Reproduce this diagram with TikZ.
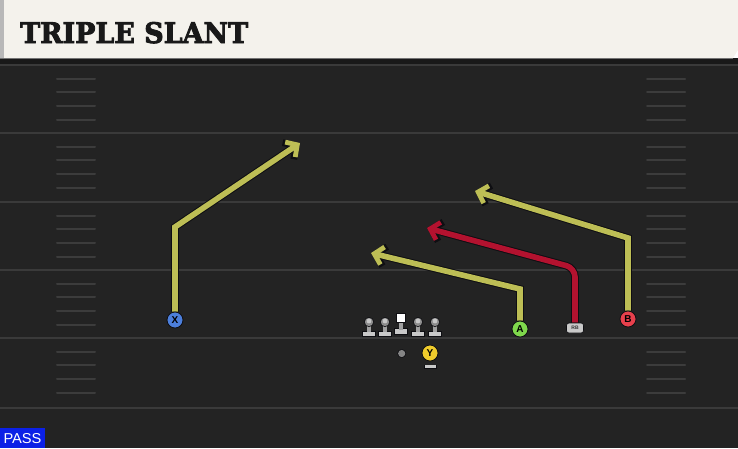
\documentclass[tikz,border=0pt]{standalone}
\usepackage{fontspec}
\usetikzlibrary{arrows.meta}
\newfontfamily\titlefont[BoldFont={DejaVu Serif Bold},BoldFeatures={FakeBold=3}]{DejaVu Serif}
\newfontfamily\labelfont{Liberation Sans}
\definecolor{cream}{HTML}{F4F2EC}
\definecolor{fieldbg}{HTML}{232323}
\definecolor{yardline}{HTML}{3A3A3A}
\definecolor{hashc}{HTML}{3C3C3C}
\definecolor{routey}{HTML}{BDBE55}
\definecolor{router}{HTML}{B3122F}
\definecolor{outl}{HTML}{0E0E12}
\definecolor{pblue}{HTML}{4C7FDC}
\definecolor{pgreen}{HTML}{7FD84C}
\definecolor{pred}{HTML}{E8404C}
\definecolor{pyellow}{HTML}{F0CC2C}
\definecolor{passblue}{HTML}{0B20E6}
\definecolor{olgray}{HTML}{C9C9C9}
\pgfdeclarelayer{back}
\pgfdeclarelayer{routes}
\pgfsetlayers{back,routes,main}
\tikzset{
  player/.style={circle,minimum size=16pt,inner sep=0pt,draw=outl,line width=0.8pt,
    font=\labelfont\bfseries\fontsize{10}{10}\selectfont,text=black},
  routeback/.style={draw=outl,line width=7.6pt,line join=miter,-{Straight Barb[length=9.5pt,width=20pt,line width=6.8pt]}},
  routefront/.style={line width=5.6pt,line join=miter,-{Straight Barb[length=8.5pt,width=18pt,line width=4.8pt]}},
  yard/.style={draw=yardline,line width=2pt},
  hashmark/.style={draw=hashc,line width=2pt,line cap=round},
}
\begin{document}
\begin{tikzpicture}[x=1pt,y=-1pt]
\useasboundingbox (0,0) rectangle (738,448);
% players
\node[player,fill=pblue] (X) at (175,320) {X};
\node[player,fill=pgreen] (A) at (520,329) {A};
\node[player,fill=pred] (B) at (628,319) {B};
\node[player,fill=pyellow] (Y) at (430,353) {Y};
\node[draw=outl,line width=0.6pt,fill=olgray,rounded corners=2.5pt,minimum width=17pt,minimum height=10pt,inner sep=0pt,
  font=\labelfont\bfseries\fontsize{5}{5}\selectfont,text=black!80] (RB) at (575,328) {RB};
\coordinate (xc) at (175,227);
\coordinate (xe) at (300,143);
\coordinate (ac) at (520,289);
\coordinate (ae) at (371,253);
\coordinate (rc) at (575,268);
\coordinate (re) at (427,228);
\coordinate (bc) at (628,238);
\coordinate (be) at (475,191);
\begin{pgfonlayer}{back}
  \fill[fieldbg] (0,58) rectangle (738,448);
  \fill[black!90] (0,58) rectangle (738,64);
  \foreach \y in {65,133,202,270,338,408} \draw[yard] (0,\y) -- (738,\y);
  \foreach \y in {65,133,202,270,338} {
    \foreach \k in {14,27,41,55} {
      \draw[hashmark] (57,\y+\k) -- (95,\y+\k);
      \draw[hashmark] (647,\y+\k) -- (685,\y+\k);
    }
  }
  \fill[cream] (0,0) -- (738,0) -- (738,50) -- (733,58) -- (0,58) -- cycle;
  \fill[black!28] (0,0) rectangle (4,58);
  \draw[black!55,line width=1pt] (0,58.5) -- (733,58.5);
  \node[anchor=base west,inner sep=0pt,text=black!90] (title) at (20,43)
    {\resizebox{228pt}{21pt}{\titlefont\bfseries TRIPLE SLANT}};
  \fill[passblue] (0,428) rectangle (45,448);
  \node[anchor=center,inner sep=0pt,text=white,font=\labelfont\fontsize{13}{13}\selectfont] (pass) at (22.5,438.5) {\resizebox{38pt}{10pt}{PASS}};
\end{pgfonlayer}
\begin{pgfonlayer}{routes}
  \draw[routeback] (X) -- (xc) -- (xe);
  \draw[routefront,routey] (X) -- (xc) -- (xe);
  \draw[routeback] (A) -- (ac) -- (ae);
  \draw[routefront,routey] (A) -- (ac) -- (ae);
  \draw[routeback,rounded corners=9pt] (RB) -- (rc) -- (re);
  \draw[routefront,router,rounded corners=9pt] (RB) -- (rc) -- (re);
  \draw[routeback] (B) -- (bc) -- (be);
  \draw[routefront,routey] (B) -- (bc) -- (be);
\end{pgfonlayer}
% offensive line
\foreach \x in {369,385,418,435} {
  \fill[outl] (\x-7,330.5) rectangle (\x+7,337);
  \fill[olgray] (\x-6,331.5) rectangle (\x+6,336);
  \fill[olgray!80!black] (\x-1.8,323) rectangle (\x+1.8,332);
  \fill[outl] (\x,322) circle (5pt);
  \fill[black!45] (\x,322) circle (4.2pt);
  \fill[black!22] (\x,321) circle (2.4pt);
}
\fill[outl] (401-7,328) rectangle (401+7,334.5);
\fill[olgray] (401-6,329) rectangle (401+6,333.5);
\fill[olgray!80!black] (401-1.8,322) rectangle (401+1.8,330);
\fill[outl] (396.3,313.3) rectangle (405.7,322.7);
\fill[white] (397.3,314.3) rectangle (404.7,321.7);
% Y stand and ball
\fill[outl] (424,364.5) rectangle (437,369);
\fill[olgray] (425,365.3) rectangle (436,368.2);
\fill[outl] (401.7,353.5) circle (4.4pt);
\fill[black!48] (401.7,353.5) circle (3.6pt);
\end{tikzpicture}
\end{document}
